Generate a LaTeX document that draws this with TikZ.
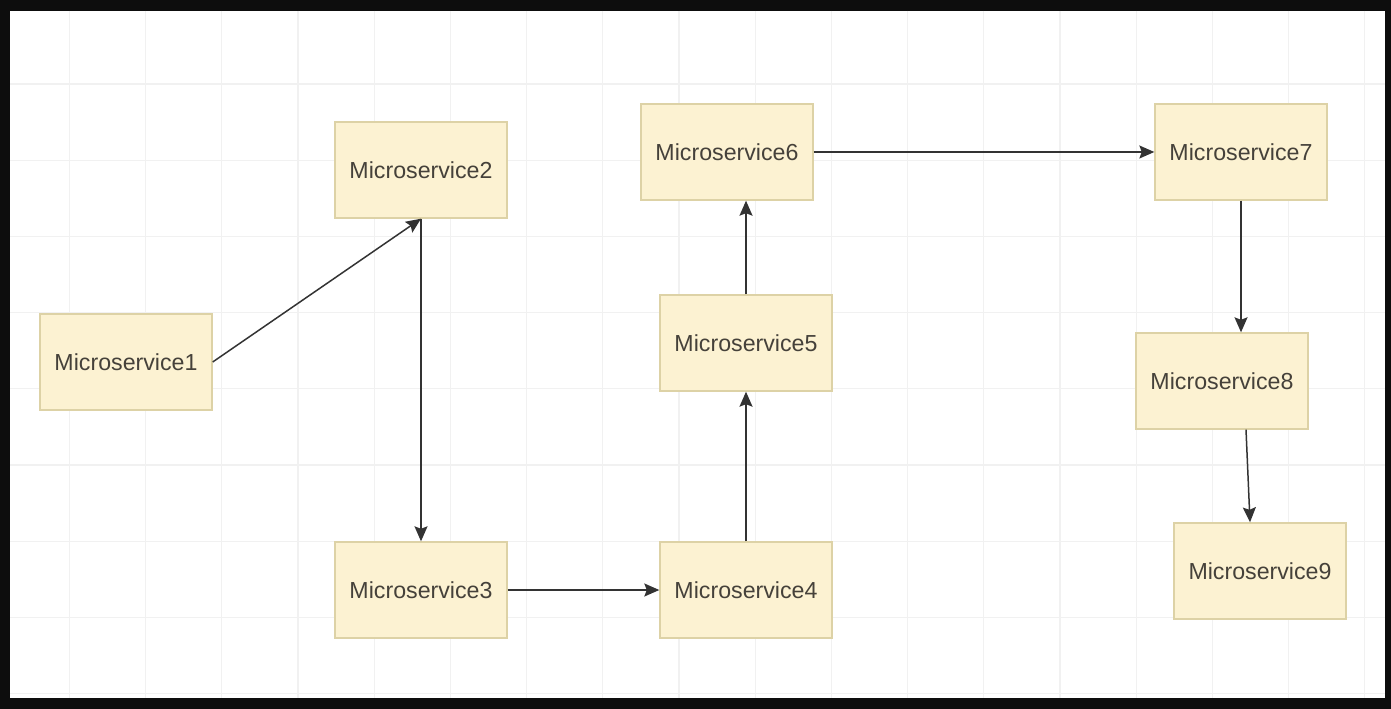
\documentclass[tikz,border=0pt]{standalone}
\usepackage{fontspec}
\setmainfont{Liberation Sans}
\usepackage{xcolor}
\usepackage{tikz}
\usetikzlibrary{arrows.meta,positioning,calc}
\definecolor{SvcFill}{HTML}{FCF2D2}
\definecolor{SvcLine}{HTML}{DDD2A6}
\definecolor{SvcText}{HTML}{45413A}
\definecolor{SvcArrow}{HTML}{333333}
\definecolor{SvcGrid}{HTML}{F1F1F1}
\tikzset{
  service/.style={draw=SvcLine,fill=SvcFill,line width=0.8pt,inner sep=0pt,
    minimum width=3.44cm,minimum height=1.92cm,text=SvcText,
    font=\fontsize{13.2}{15}\selectfont},
  call/.style={-{Stealth[length=3mm,width=2.6mm,inset=0.5mm]},line width=0.85pt,draw=SvcArrow}
}
\begin{document}
\begin{tikzpicture}[x=0.02cm,y=-0.02cm]
  % frame and canvas
  \fill[black!95] (0,0) rectangle (1391,709);
  \fill[white] (10,11) rectangle (1385,698);
  \useasboundingbox (0,0) rectangle (1391,709);
  % background grid
  \foreach \gx in {0,...,17}
    \draw[SvcGrid,line width=0.6pt] ({69.4+76.2*\gx},11) -- ({69.4+76.2*\gx},698);
  \foreach \gy in {0,...,8}
    \draw[SvcGrid,line width=0.6pt] (10,{84+76.2*\gy}) -- (1385,{84+76.2*\gy});
  % services
  \node[service] (m1) at (126,362) {Microservice1};
  \node[service] (m2) at (421,170) {Microservice2};
  \node[service] (m3) at (421,590) {Microservice3};
  \node[service] (m4) at (746,590) {Microservice4};
  \node[service] (m5) at (746,343) {Microservice5};
  \node[service] (m6) at (727,152) {Microservice6};
  \node[service] (m7) at (1241,152) {Microservice7};
  \node[service] (m8) at (1222,381) {Microservice8};
  \node[service] (m9) at (1260,571) {Microservice9};
  % calls
  \draw[call] (m1.east) -- (m2.south);
  \draw[call] (m2.south) -- (m3.north);
  \draw[call] (m3) -- (m4);
  \draw[call] (m4) -- (m5);
  \draw[call] (m5.north) -- (m5.north |- m6.south);
  \draw[call] (m6) -- (m7);
  \draw[call] (m7.south) -- (m7.south |- m8.north);
  \draw[call] ([xshift=0.48cm]m8.south) -- ([xshift=-0.2cm]m9.north);
\end{tikzpicture}
\end{document}
